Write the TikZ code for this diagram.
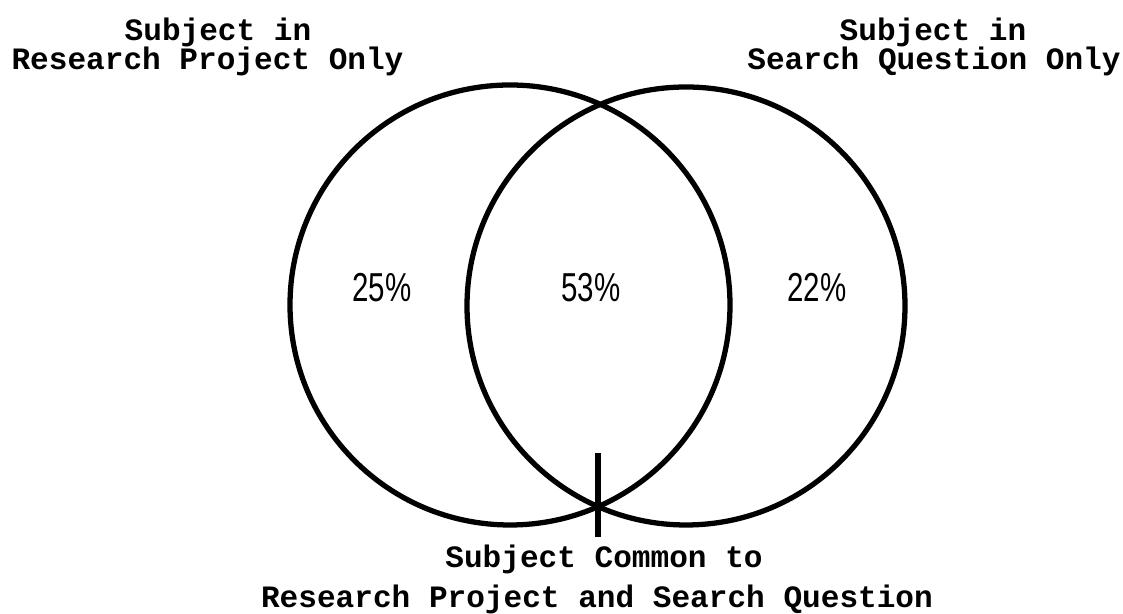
\documentclass[tikz,border=0pt]{standalone}
\usepackage{fontspec}
\newfontfamily\typefont{Liberation Mono}
\newfontfamily\pctfont[FakeStretch=0.73]{Liberation Sans}
\begin{document}
\begin{tikzpicture}[x=0.02cm, y=0.02cm,
  title/.style={font=\typefont\bfseries\fontsize{17.7}{20}\selectfont, inner sep=0, anchor=base},
  pct/.style={font=\pctfont\fontsize{23}{23}\selectfont, inner sep=0}]
\useasboundingbox (0,0) rectangle (1123,614);
% the two subject sets
\draw[line width=3pt] (510,309) circle (220);
\draw[line width=3pt] (686,308) circle (219);
% shares
\node[pct] (rponly) at (382,326.5) {25\%};
\node[pct] (common) at (591,326.5) {53\%};
\node[pct] (sqonly) at (817,326.5) {22\%};
% titles on top
\node[title] (rpsub) at (218,573) {Subject in};
\node[title] (rpname) at (207.5,544) {Research Project Only};
\node[title] (sqsub) at (933,573) {Subject in};
\node[title] (sqname) at (934,544) {Search Question Only};
% title below, with its pointer
\node[title] (cmsub) at (604,46) {Subject Common to};
\node[title] (cmname) at (597,6) {Research Project and Search Question};
\coordinate (tip) at (598,161);
\draw[line width=3.2pt] (tip |- cmsub.north) ++(0,8) -- (tip);
\end{tikzpicture}
\end{document}
